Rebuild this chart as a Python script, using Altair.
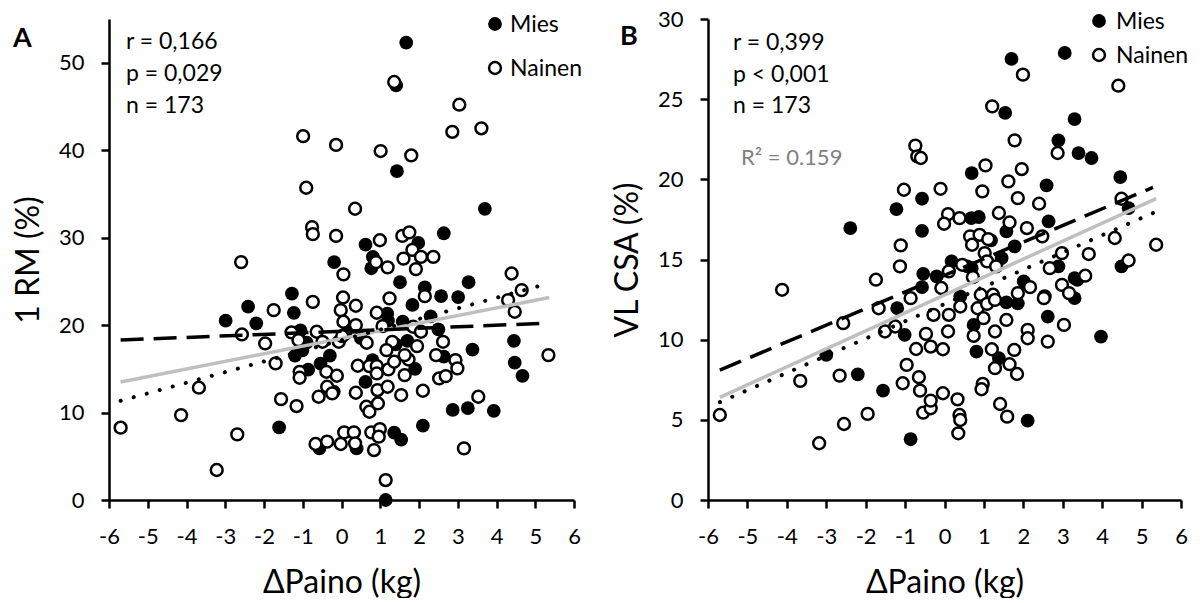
import altair as alt
import pandas as pd

FONT = "Lato"

# ---------------- Panel A: 1 RM (%) vs ΔPaino ----------------
a_mies_x = [1.67, 1.41, 1.43, 3.70, 0.62, 2.64, 1.98, -0.19, 0.81, 0.77, 1.51, 3.28, 2.15, -1.28, 2.57, 3.01,
            -2.41, -2.99, -2.20, -1.23, 1.83, 1.18, -1.06, 1.58, 3.38, 4.45, 4.47, 4.67, -0.54, -0.86, 0.62,
            -1.01, 2.64, 2.87, 3.26, 3.93, -1.61, 2.10, 1.36, 1.54, -0.57, 0.39, 1.14, -0.20,
            0.10, 0.50, 1.40, 1.70, 2.30, -0.30, 0.80, 1.90, -0.90, 2.50, 1.20, 0.30, -1.20]
a_mies_y = [52.3, 47.4, 37.6, 33.3, 29.2, 30.5, 29.4, 27.2, 27.8, 26.5, 24.9, 24.9, 24.3, 23.6, 23.3, 23.2,
            22.1, 20.5, 20.2, 21.4, 22.3, 21.3, 19.4, 20.4, 17.2, 18.2, 15.7, 14.2, 15.6, 14.9, 13.5,
            17.1, 16.4, 10.3, 10.5, 10.2, 8.3, 8.5, 7.7, 6.9, 5.9, 5.9, 0.0, 12.4,
            19.0, 18.5, 17.8, 18.2, 21.0, 16.5, 16.0, 15.0, 18.0, 19.5, 20.5, 19.8, 16.5]

a_nainen_x = [1.36, 3.04, 2.86, 3.61, -0.99, -0.14, 1.01, 1.80, -0.91, 0.35, -0.76, -0.74, -0.14, 0.99, 1.57,
              1.75, 1.83, 2.05, 2.37, 1.60, 0.89, 1.19, 1.92, 0.05, 4.39, -2.59, 4.65,
              -5.70, -4.14, -3.68, -3.22, -2.69, -2.57, -1.75, -1.97, -1.70, -1.56, -1.16, -0.74, -1.29, -1.11,
              -1.08, -1.08, -0.64, -0.49, -0.39, -0.37, -0.59, -0.24, -0.12, -0.07, -0.02, 0.04, 0.05, 0.37,
              0.37, 0.02, 0.42, 0.37, 0.65, 0.72, 0.91, 0.91, 0.93, 0.64, 0.72, 0.94, 0.91, 1.06, 1.24, 1.31,
              1.16, 1.19, 1.21, 1.36, 1.54, 1.63, 1.73, 1.63, 1.95, 1.85, 2.05, 2.15, 2.10, 2.44, 2.52, 2.62,
              2.69, 2.94, 2.99, 3.53, 3.16, 4.30, 4.47, 5.34,
              -0.67, -0.37, -0.02, 0.07, 0.32, 0.35, 0.77, 0.99, 0.96, 0.84, 1.14]
a_nainen_y = [47.8, 45.2, 42.1, 42.5, 41.6, 40.6, 39.9, 39.4, 35.7, 33.3, 31.2, 30.4, 30.2, 29.7, 30.2,
              30.6, 28.6, 27.8, 27.8, 27.6, 27.2, 26.6, 26.4, 25.8, 25.9, 27.2, 24.0,
              8.27, 9.71, 12.84, 3.43, 7.50, 18.93, 21.71, 17.90, 15.62, 11.54, 10.74, 22.66, 19.16, 18.28,
              14.66, 13.98, 19.24, 18.09, 14.66, 12.95, 11.81, 12.19, 14.21, 18.09, 21.71, 23.16, 20.38, 22.21,
              20.0, 18.74, 15.35, 12.26, 17.98, 15.31, 15.31, 14.47, 12.57, 10.66, 10.09, 11.04, 21.41, 19.88, 23.05, 18.09,
              17.14, 12.95, 14.93, 15.81, 12.0, 14.28, 16.07, 16.57, 17.6, 19.81, 19.24, 23.31, 12.49, 16.57, 13.9, 18.09,
              14.17, 16.0, 15.05, 11.81, 5.9, 22.85, 21.52, 16.57,
              6.40, 6.67, 6.40, 7.73, 7.73, 6.48, 7.73, 8.11, 7.24, 5.71, 2.28]

# trend line end points (x, y)
a_fit_x = [-5.70, 5.26, -5.70, 5.21, -5.70, 5.36]
a_fit_y = [18.3, 20.2, 11.35, 24.6, 13.5, 23.15]
a_fit_group = ["Mies", "Mies", "Nainen", "Nainen", "Kaikki", "Kaikki"]

# ---------------- Panel B: VL CSA (%) vs ΔPaino ----------------
b_mies_x = [1.70, 3.05, 1.54, 3.30, 2.89, 3.40, 3.73, 4.46, 0.69, 2.59, -0.57, -1.22, -2.39, 0.68, 0.87, -0.57,
            2.64, 1.57, 4.67, 1.78, 1.18, 0.18, -0.54, 1.45, 0.58, 4.49, 2.89, 2.01, 3.30, -0.20, -0.57, 0.40,
            0.69, -1.20, -1.01, 1.57, 1.86, 3.30, 0.74, 2.62, 0.81, 1.38, -3.00, -2.20, -1.56, -0.86, 2.11,
            3.97, 3.37]
b_mies_y = [27.51, 27.88, 24.14, 23.76, 22.43, 21.64, 21.33, 20.14, 20.39, 19.62, 18.79, 18.14, 16.96, 17.58, 17.65, 16.79,
            17.38, 16.75, 18.21, 15.82, 16.19, 14.88, 14.11, 15.09, 14.57, 14.57, 14.57, 13.63, 13.84, 13.94, 13.28, 12.70,
            14.46, 11.96, 10.30, 12.32, 12.27, 12.59, 10.92, 11.44, 9.26, 8.84, 9.05, 7.84, 6.82, 3.79, 4.95,
            10.19, 13.73]

b_nainen_x = [1.99, 4.41, 1.21, 1.78, -0.74, -0.69, -0.60, 2.87, 1.04, 1.96, 1.62, -1.03, -0.10, 0.96, 1.86, 2.40,
              4.49, 0.09, 0.38, -0.01, 1.38, 1.65, 2.09, 0.65, 0.89, 1.11, 0.70, 2.48, -1.11, 1.02, 2.98, 3.66,
              4.32, 5.37, 4.67, 1.08, 1.31, -1.13, 0.45, 0.11, -1.74, 0.72, 2.67, 3.57, -0.08, 1.86, 2.17, 2.54,
              2.98, 3.16, -4.12, 0.92, 1.23, -0.86,
              -5.70, -3.66, -3.18, -2.66, -2.55, -2.57, -1.95, -1.67, -1.51, -1.25, -1.06, -0.96, -0.72, -0.65,
              -0.62, -0.54, -0.35, -0.35, -0.47, -0.35, -0.28, -0.04, 0.09, 0.11, -0.04, 0.33, 0.38, 0.40, 0.35,
              0.40, 0.74, 0.84, 0.99, 0.97, 0.94, 1.08, 1.28, 1.28, 1.20, 1.57, 1.28, 1.65, 1.77, 1.84, 1.41,
              1.59, 2.11, 2.11, 2.52, 2.62, 3.03]
b_nainen_y = [26.53, 25.84, 24.55, 22.43, 22.10, 21.43, 21.33, 21.64, 20.87, 20.64, 19.87, 19.35, 19.41, 19.25, 18.83, 18.48,
              18.79, 17.83, 17.58, 17.23, 17.90, 17.31, 16.96, 16.44, 16.54, 16.27, 15.92, 16.44, 15.88, 15.40, 15.40, 15.34,
              16.34, 15.92, 14.94, 14.88, 14.57, 14.57, 14.67, 14.26, 13.74, 13.90, 14.46, 13.99, 13.22, 12.90, 13.28, 12.70,
              13.42, 12.90, 13.11, 12.80, 12.80, 12.59,
              5.30, 7.43, 3.54, 7.76, 4.74, 11.03, 5.37, 11.96, 10.51, 10.82, 7.28, 8.43, 9.42, 7.66,
              6.82, 5.45, 5.72, 6.20, 10.36, 9.57, 11.55, 9.40, 10.51, 11.55, 6.66, 6.28, 5.30, 4.99, 4.16,
              12.07, 10.24, 11.96, 11.34, 7.24, 6.91, 12.23, 12.48, 10.51, 9.40, 11.23, 8.22, 8.47, 9.36, 7.86, 5.99,
              5.20, 10.61, 10.09, 12.59, 9.88, 10.92]

b_fit_x = [-5.70, 5.29, -5.70, 5.29, -5.70, 5.37]
b_fit_y = [8.1, 19.5, 6.1, 17.9, 6.4, 18.8]
b_fit_group = ["Mies", "Mies", "Nainen", "Nainen", "Kaikki", "Kaikki"]

x_ticks = list(range(-6, 7))

LABEL_EXPR = "datum.value < 0 ? '-' + abs(datum.value) : '' + datum.value"


def note(text, x, y, size=23, color="black", weight="normal", align="left", baseline="alphabetic", opacity=1):
    return alt.Chart(pd.DataFrame({"t": [text]})).mark_text(
        font=FONT, fontSize=size, color=color, fontWeight=weight, align=align,
        baseline=baseline, opacity=opacity
    ).encode(text="t:N", x=alt.value(x), y=alt.value(y))


def dot(x, y, filled):
    if filled:
        m = alt.Chart(pd.DataFrame({"k": [1]})).mark_circle(color="black", opacity=1, size=190)
    else:
        m = alt.Chart(pd.DataFrame({"k": [1]})).mark_circle(
            fill="white", stroke="black", strokeWidth=2.5, opacity=1, size=140)
    return m.encode(x=alt.value(x), y=alt.value(y))


def panel(mx, my, nx, ny, fx, fy, fg, ymax, yticks, ytitle, width, notes):
    xs = alt.Scale(domain=[-6, 6], nice=False, zero=False)
    ys = alt.Scale(domain=[0, ymax], nice=False, zero=True)
    xax = alt.Axis(values=x_ticks, tickCount=30, title="ΔPaino (kg)", grid=False,
                   labelExpr=LABEL_EXPR, labelFlush=False, labelOverlap=False)
    yax = alt.Axis(values=yticks, tickCount=30, title=ytitle, grid=False, format="d",
                   labelFlush=False, labelOverlap=False)
    X = alt.X("x:Q", scale=xs, axis=xax)
    Y = alt.Y("y:Q", scale=ys, axis=yax)

    men = pd.DataFrame({"x": mx, "y": my})
    women = pd.DataFrame({"x": nx, "y": ny})
    fit = pd.DataFrame({"x": fx, "y": fy, "g": fg})

    base_m = alt.Chart(men).mark_circle(color="black", opacity=1, size=190).encode(x=X, y=Y)
    base_n = alt.Chart(women).mark_circle(
        fill="white", stroke="black", strokeWidth=2.5, opacity=1, size=140).encode(x=X, y=Y)
    gray = alt.Chart(fit).transform_filter(alt.datum.g == "Kaikki").mark_line(
        color="#BFBFBF", strokeWidth=3.5).encode(x=X, y=Y)
    dashed = alt.Chart(fit).transform_filter(alt.datum.g == "Mies").mark_line(
        color="black", strokeWidth=3.5, strokeDash=[23, 10]).encode(x=X, y=Y)
    dotted = alt.Chart(fit).transform_filter(alt.datum.g == "Nainen").mark_line(
        color="black", strokeWidth=4, strokeDash=[0.1, 13.4], strokeCap="round").encode(x=X, y=Y)

    layers = [base_m, base_n, gray, dashed, dotted] + notes
    return alt.layer(*layers).properties(width=width, height=481)


left_notes = [
    note("A", -96, 28, size=27, weight="bold"),
    note("00", -25, 0, size=22, align="right", baseline="middle", opacity=0),
    note("r = 0,166", 17, 30),
    note("p = 0,029", 17, 62),
    note("n = 173", 17, 94),
    dot(386, 5, True), note("Mies", 401, 13),
    dot(386, 49, False), note("Nainen", 401, 57),
]
right_notes = [
    note("B", -88, 26, size=27, weight="bold"),
    note("r = 0,399", 25, 31),
    note("p < 0,001", 25, 63),
    note("n = 173", 25, 94),
    note("R² = 0.159", 33, 146, size=22, color="#7F7F7F"),
    dot(391, 2, True), note("Mies", 408, 10),
    dot(391, 36, False), note("Nainen", 408, 44),
]

left = panel(a_mies_x, a_mies_y, a_nainen_x, a_nainen_y, a_fit_x, a_fit_y, a_fit_group,
             55, [0, 10, 20, 30, 40, 50], "1 RM (%)", 465, left_notes)
right = panel(b_mies_x, b_mies_y, b_nainen_x, b_nainen_y, b_fit_x, b_fit_y, b_fit_group,
              30, [0, 5, 10, 15, 20, 25, 30], "VL CSA (%)", 473, right_notes)

chart = alt.hconcat(left, right, spacing=29).properties(
    padding={"left": 12, "top": 8, "right": 0, "bottom": 0}
).configure(background="white").configure_view(stroke=None).configure_axis(
    domainColor="black", domainWidth=2.5, tickColor="black", tickWidth=2.5,
    labelFont=FONT, labelFontSize=22, labelColor="black",
    titleFont=FONT, titleFontSize=32, titleFontWeight="normal", titleColor="black",
).configure_axisX(
    tickSize=8, labelPadding=18, titlePadding=20
).configure_axisY(
    tickSize=8, labelPadding=17, titlePadding=13
)

chart.save("out.html", embed_options={"renderer": "svg", "actions": False})
